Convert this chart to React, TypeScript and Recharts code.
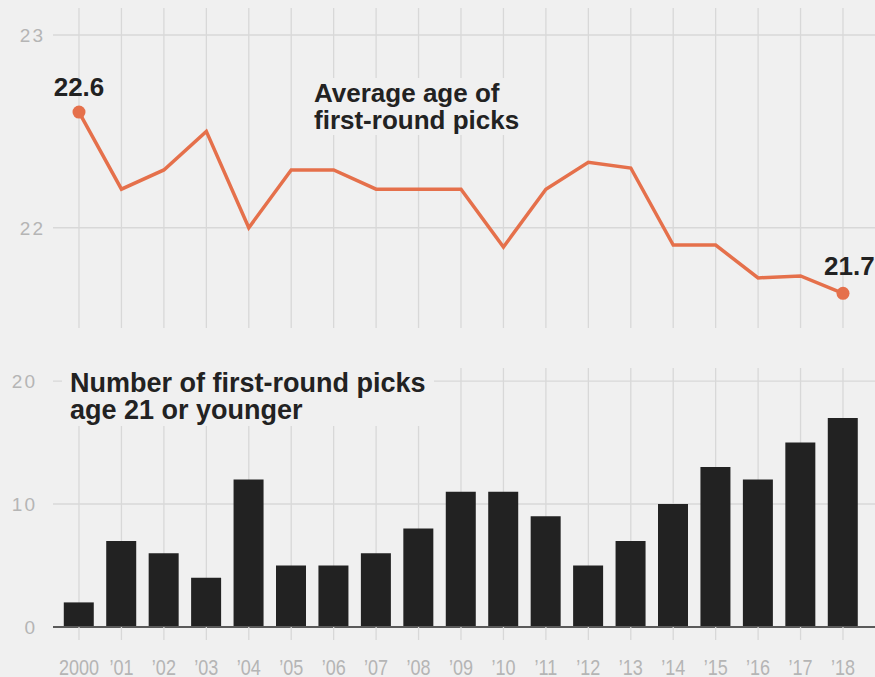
import React from 'react';
import {
  LineChart,
  Line,
  BarChart,
  Bar,
  XAxis,
  YAxis,
  ReferenceLine,
  LabelList,
} from 'recharts';

// anos do draft, rótulos do eixo e valores
const years = [2000, 2001, 2002, 2003, 2004, 2005, 2006, 2007, 2008, 2009, 2010, 2011, 2012, 2013, 2014, 2015, 2016, 2017, 2018];
const yearLabels = ['2000', '’01', '’02', '’03', '’04', '’05', '’06', '’07', '’08', '’09', '’10', '’11', '’12', '’13', '’14', '’15', '’16', '’17', '’18'];
const averageAge = [22.6, 22.2, 22.3, 22.5, 22.0, 22.3, 22.3, 22.2, 22.2, 22.2, 21.9, 22.2, 22.34, 22.31, 21.91, 21.91, 21.74, 21.75, 21.66];
const youngPicks = [2, 7, 6, 4, 12, 5, 5, 6, 8, 11, 11, 9, 5, 7, 10, 13, 12, 15, 17];
const ageTicks = [22, 23];
const pickTicks = [0, 10, 20];

const ageData = years.map((year, i) => ({ year, age: averageAge[i] }));
const pickData = years.map((year, i) => ({ year, count: youngPicks[i] }));

const BG = '#f0f0f0';
const GRID = '#d8d8d8';
const ORANGE = '#e5704b';
const NUM_FONT = "'Liberation Sans', Arial, sans-serif";
const TITLE_FONT = "'Liberation Sans', Arial, sans-serif";

const lastIndex = years.length - 1;

const EndDot = (props: any) => {
  const { cx, cy, index } = props;
  if (index !== 0 && index !== lastIndex) return <g key={index} />;
  return <circle key={index} cx={cx} cy={cy} r={6.5} fill={ORANGE} />;
};

const EndLabel = (props: any) => {
  const { x, y, value, index } = props;
  if (index !== 0 && index !== lastIndex) return null;
  const first = index === 0;
  return (
    <text
      x={first ? x : x - 19}
      y={first ? y - 16 : y - 18}
      textAnchor={first ? 'middle' : 'start'}
      fill="#222"
      fontSize={26}
      fontWeight="bold"
      fontFamily={TITLE_FONT}
    >
      {Number(value).toFixed(1)}
    </text>
  );
};

// rótulo do ano em fonte "condensada" (escala horizontal)
const YearTick = (props: any) => {
  const { x, y, payload } = props;
  return (
    <g transform={`translate(${x},${y})`}>
      <text
        transform="scale(0.82,1)"
        textAnchor="middle"
        dy={16}
        fill="#b5b5b5"
        fontSize={22}
        fontFamily={NUM_FONT}
      >
        {yearLabels[years.indexOf(payload.value)]}
      </text>
    </g>
  );
};

const titleStyle: React.CSSProperties = {
  position: 'absolute',
  background: BG,
  color: '#222',
  fontFamily: TITLE_FONT,
  fontWeight: 'bold',
  whiteSpace: 'nowrap',
};

const yTick = { fill: '#b5b5b5', fontSize: 19, fontFamily: NUM_FONT, letterSpacing: 2 };

const gridLines = (hTicks: number[]) => [
  ...years.map((t) => (
    <ReferenceLine key={`v${t}`} x={t} stroke={GRID} strokeWidth={1.3} zIndex={-100} />
  )),
  ...hTicks.map((t) => (
    <ReferenceLine key={`h${t}`} y={t} stroke={GRID} strokeWidth={1.3} zIndex={-100} />
  )),
];

export default function App() {
  return (
    <div style={{ position: 'absolute', left: 0, top: 0, width: 875, height: 677, background: BG, overflow: 'hidden' }}>
      <style>{'body{margin:0}'}</style>

      <LineChart width={875} height={340} data={ageData} margin={{ top: 8, right: 0, bottom: 12, left: 0 }}>
        {gridLines(ageTicks)}
        <XAxis dataKey="year" type="number" domain={[2000, 2018]} ticks={years} padding={{ left: 26, right: 32 }} hide />
        <YAxis
          domain={[21.48, 23.14]}
          allowDataOverflow
          ticks={ageTicks}
          width={53}
          axisLine={false}
          tickLine={false}
          tickMargin={2}
          tick={yTick}
        />
        <Line
          dataKey="age"
          stroke={ORANGE}
          strokeWidth={3.5}
          strokeLinejoin="miter"
          dot={EndDot}
          activeDot={false}
          isAnimationActive={false}
        >
          <LabelList dataKey="age" content={EndLabel} />
        </Line>
      </LineChart>

      <BarChart width={875} height={337} data={pickData} margin={{ top: 28, right: 0, bottom: 0, left: 0 }}>
        {gridLines(pickTicks.filter((t) => t > 0))}
        <XAxis
          dataKey="year"
          type="number"
          domain={[2000, 2018]}
          ticks={years}
          interval={0}
          padding={{ left: 26, right: 32 }}
          height={50}
          tickSize={13}
          tickMargin={19}
          tickLine={{ stroke: GRID, strokeWidth: 1.3 }}
          axisLine={{ stroke: '#5a5a5a', strokeWidth: 2 }}
          tick={<YearTick />}
        />
        <YAxis
          domain={[0, 21.06]}
          allowDataOverflow
          ticks={pickTicks}
          width={53}
          axisLine={false}
          tickLine={false}
          tickMargin={10}
          tick={yTick}
        />
        <Bar dataKey="count" fill="#222" barSize={30} isAnimationActive={false} />
      </BarChart>

      <div style={{ ...titleStyle, left: 306, top: 78, padding: '2px 8px', fontSize: 26, lineHeight: '26.5px' }}>
        Average age of
        <br />
        first-round picks
      </div>
      <div style={{ ...titleStyle, left: 62, top: 368, padding: '2px 8px', fontSize: 27, lineHeight: '27px' }}>
        Number of first-round picks
        <br />
        age 21 or younger
      </div>
    </div>
  );
}
